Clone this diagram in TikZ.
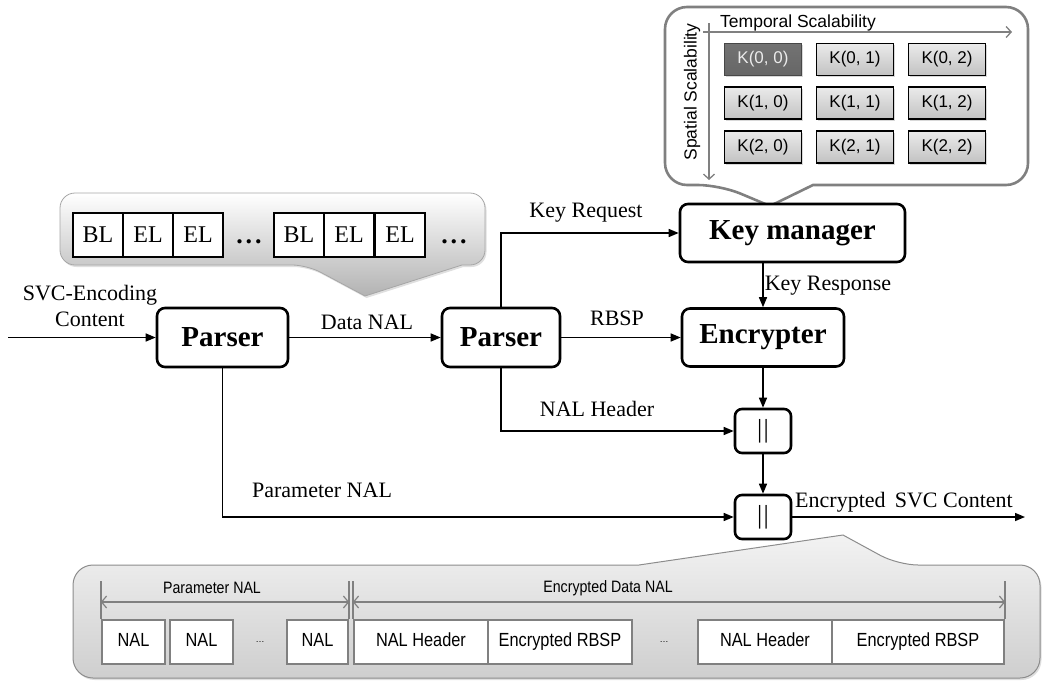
\documentclass[tikz,border=0pt]{standalone}
\usepackage{fontspec}
\setmainfont{Liberation Serif}
\setsansfont{Liberation Sans}
\newfontfamily\narrowsans[FakeStretch=0.86]{Liberation Sans}
\usetikzlibrary{arrows.meta,shadows}

\begin{document}
\begin{tikzpicture}[x=1pt,y=-1pt,
  proc/.style={draw, line width=2.6pt, rounded corners=8pt, fill=white, inner sep=0pt,
    font=\bfseries\fontsize{29}{32}\selectfont},
  catbox/.style={draw, line width=2.6pt, rounded corners=7pt, fill=white,
    minimum width=56pt, minimum height=44pt, inner sep=0pt,
    font=\fontsize{26}{28}\selectfont},
  lbl/.style={font=\fontsize{22}{26}\selectfont, inner sep=0pt},
  flow/.style={line width=1.4pt, -{Triangle[length=10pt,width=8pt]}},
  layer/.style={draw, line width=2pt, fill=white, minimum width=50pt, minimum height=44pt,
    inner sep=0pt, font=\fontsize{24}{26}\selectfont},
  kbox/.style={draw, line width=1.3pt, top color=black!8, bottom color=black!24,
    minimum width=77pt, minimum height=32pt, inner sep=0pt,
    font=\sffamily\fontsize{17}{19}\selectfont,
    drop shadow={shadow xshift=1.5pt, shadow yshift=-1.5pt, opacity=0.3}},
  kdark/.style={kbox, draw=black!72, top color=black!55, bottom color=black!60,
    text=black!8},
  axisarrow/.style={draw=black!50, line width=1.3pt, -{Straight Barb[length=5pt,width=11pt]}},
  nalbox/.style={draw=black!50, line width=2.4pt, fill=white, minimum height=44pt,
    inner sep=0pt, text height=12.5pt, text depth=3.5pt,
    font=\narrowsans\fontsize{19}{21}\selectfont},
  bracket/.style={draw=black!50, line width=2pt},
  span/.style={draw=black!50, line width=1.2pt,
    {Straight Barb[length=5pt,width=12pt]}-{Straight Barb[length=5pt,width=12pt]}},
  small/.style={font=\narrowsans\fontsize{16.5}{18}\selectfont, inner sep=0pt}
]
\useasboundingbox (0,0) rectangle (1050,683);

% ---------- key table callout ----------
\draw[line width=2.6pt, draw=black!50, fill=white]
  (850,7) [rounded corners=22pt] -- (665,7) -- (665,185) -- (720,185)
  [sharp corners] -- (770,206) -- (813,185)
  [rounded corners=22pt] -- (1028,185) -- (1028,7) -- cycle;
\coordinate (tstart) at (703,32);
\coordinate (tend) at (1012,32);
\coordinate (sstart) at (709,23);
\coordinate (send) at (709,180);
\draw[axisarrow] (tstart) -- (tend);
\draw[axisarrow] (sstart) -- (send);
\node[inner sep=0pt, font=\sffamily\fontsize{17.5}{19}\selectfont, anchor=base] (tlabel) at (798,27) {Temporal Scalability};
\node[inner sep=0pt, font=\sffamily\fontsize{17.5}{19}\selectfont, rotate=90] (slabel) at (692,92) {Spatial Scalability};

\node[kdark] (k00) at (763,59.5) {K(0, 0)};
\node[kbox]  (k01) at (855,59.5) {K(0, 1)};
\node[kbox]  (k02) at (947,59.5) {K(0, 2)};
\node[kbox]  (k10) at (763,103) {K(1, 0)};
\node[kbox]  (k11) at (855,103) {K(1, 1)};
\node[kbox]  (k12) at (947,103) {K(1, 2)};
\node[kbox]  (k20) at (763,147) {K(2, 0)};
\node[kbox]  (k21) at (855,147) {K(2, 1)};
\node[kbox]  (k22) at (947,147) {K(2, 2)};

% ---------- layer sequence callout ----------
\draw[draw=black!35, line width=0.8pt, top color=white, bottom color=black!30,
      drop shadow={shadow xshift=1.5pt, shadow yshift=-2pt, opacity=0.25}]
  (270,193) [rounded corners=15pt] -- (60,193) -- (60,265) -- (307,265)
  [sharp corners] -- (365,296) -- (462,265)
  [rounded corners=15pt] -- (485,265) -- (485,193) -- cycle;
\node[layer] (bl1) at (98,235) {BL};
\node[layer] (el1) at (148,235) {EL};
\node[layer] (el2) at (198,235) {EL};
\node[font=\bfseries\fontsize{26}{28}\selectfont, inner sep=0pt] (dots1) at (249,242) {.\kern3pt.\kern3pt.};
\node[layer] (bl2) at (299,235) {BL};
\node[layer] (el3) at (349,235) {EL};
\node[layer] (el4) at (400,235) {EL};
\node[font=\bfseries\fontsize{26}{28}\selectfont, inner sep=0pt] (dots2) at (454,242) {.\kern3pt.\kern3pt.};

% ---------- packet layout callout ----------
\draw[draw=black!45, line width=1pt, top color=black!5, bottom color=black!19,
      drop shadow={shadow xshift=1.5pt, shadow yshift=-2pt, opacity=0.25}]
  (400,565) [rounded corners=20pt] -- (73,565) -- (73,678) -- (1040,678) -- (1040,565) -- (898,565)
  [sharp corners] -- (843,535) -- (639,565)
  [rounded corners=20pt] -- cycle;

\node[nalbox, minimum width=63pt] (n1) at (133.5,642) {NAL};
\node[nalbox, minimum width=63pt] (n2) at (201.5,642) {NAL};
\node[inner sep=0pt, font=\sffamily\fontsize{9}{11}\selectfont] (nd1) at (260,642) {…};
\node[nalbox, minimum width=61pt] (n3) at (317.5,642) {NAL};
\node[nalbox, minimum width=134pt] (h1) at (421,642) {NAL Header};
\node[nalbox, minimum width=144pt] (r1) at (560,642) {Encrypted RBSP};
\node[inner sep=0pt, font=\sffamily\fontsize{9}{11}\selectfont] (nd2) at (664,642) {…};
\node[nalbox, minimum width=134pt] (h2) at (765,642) {NAL Header};
\node[nalbox, minimum width=172pt] (r2) at (918,642) {Encrypted RBSP};

\draw[bracket] (n1.north west) -- (n1.north west |- 0,581);
\draw[bracket] (n3.north east) -- (n3.north east |- 0,581);
\draw[bracket] (h1.north west) -- (h1.north west |- 0,581);
\draw[bracket] (r2.north east) -- (r2.north east |- 0,581);
\draw[span] (n1.north west |- 0,602) -- (n3.north east |- 0,602);
\draw[span] (h1.north west |- 0,602) -- (r2.north east |- 0,602);
\node[small] (plabel) at (212,588) {Parameter NAL};
\node[small] (elabel) at (608,588) {Encrypted Data NAL};

% ---------- processing blocks ----------
\node[proc, minimum width=131pt, minimum height=59pt] (p1) at (222.5,337.5) {Parser};
\node[proc, minimum width=118pt, minimum height=59pt] (p2) at (501,337.5) {Parser};
\node[proc, minimum width=225pt, minimum height=58pt] (km) at (792.5,233) {Key manager};
\node[proc, minimum width=162pt, minimum height=58pt] (enc) at (763,337.5) {Encrypter};
\node[catbox] (c1) at (763,431) {|\kern1.5pt|};
\node[catbox] (c2) at (763,517) {|\kern1.5pt|};

% ---------- connectors ----------
\coordinate (src) at (8,337.5);
\coordinate (sink) at (1025,517);
\draw[flow] (src) -- (p1);
\draw[flow] (p1) -- (p2);
\draw[flow] (p2.north) |- (km.west);
\draw[flow] (p2) -- (enc);
\draw[flow] (km.south -| enc.north) -- (enc.north);
\draw[flow] (enc) -- (c1);
\draw[flow] (p2.south) |- (c1.west);
\draw[flow] (c1) -- (c2);
\draw[flow] (p1.south) |- (c2.west);
\draw[flow] (c2) -- (sink);

% ---------- connector labels ----------
\node[lbl, align=center] (lsvc) at (90,306) {SVC-Encoding\\Content};
\node[lbl, anchor=base] (ldata) at (367,329) {Data NAL};
\node[lbl, anchor=base] (lrbsp) at (617,325) {RBSP};
\node[lbl, anchor=base] (lreq) at (586,217) {Key Request};
\node[lbl, anchor=base] (lresp) at (828,290) {Key Response};
\node[lbl, anchor=base] (lhdr) at (597,416) {NAL Header};
\node[lbl, anchor=base] (lpar) at (322,497) {Parameter NAL};
\node[lbl, anchor=base] (lout) at (904,507) {Encrypted\, SVC Content};
\end{tikzpicture}
\end{document}
